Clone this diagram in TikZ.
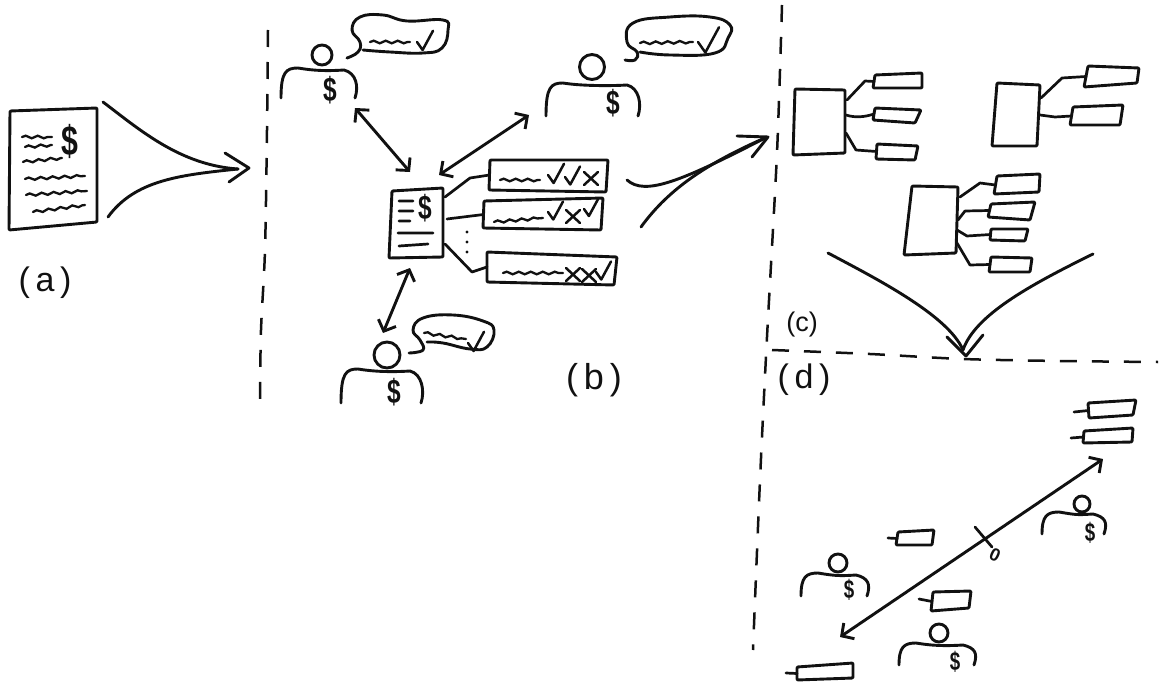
\documentclass[tikz,border=0pt]{standalone}
\usepackage{fontspec}
\usepackage{xcolor}
\usepackage{tikz}
\usetikzlibrary{arrows.meta,positioning,shapes,calc,decorations.pathmorphing}
\newfontfamily\handfont{Liberation Sans}
\definecolor{ink}{HTML}{111111}
\tikzset{
  sketch/.style={draw=ink,line width=2.9pt,line cap=round,line join=round},
  boxline/.style={sketch,rounded corners=1pt},
  link/.style={sketch,line width=2.7pt},
  dashline/.style={draw=ink,line width=2.5pt,dash pattern=on 17pt off 15pt},
  squig/.style={draw=ink,line width=2.3pt,line cap=round,decorate,
                decoration={snake,amplitude=1.3pt,segment length=12pt}},
  headshape/.style={ellipse,draw=ink,line width=2.9pt,inner sep=0pt},
  dollarmark/.style={inner sep=0pt,text=ink},
  partlabel/.style={inner sep=0pt,text=ink,font=\handfont\fontsize{34}{36}\selectfont},
  flowtip/.style={sketch},
  bothway/.style={sketch,{Straight Barb[length=9pt,width=19pt]}-{Straight Barb[length=9pt,width=19pt]}}
}
\newcommand{\narrowdollar}{\scalebox{.72}[1]{\bfseries\$}}
\newcommand{\skbox}[5]{
  \draw[boxline] (#2) -- (#3) -- (#4) -- (#5) -- cycle;
  \coordinate (#1) at ($(#2)!.5!(#5)$);
}
\newcommand{\skperson}[9]{
  \node[headshape,minimum size=#3pt] (head#1) at (#2) {};
  \draw[sketch] (#4,#7) .. controls (#4,#6+4) and (#4+5,#6) .. (#4+17,#6)
    .. controls (#4+35,#6+3) and (#5-30,#6+3) .. (#5-14,#6+2)
    .. controls (#5-2,#6+5) and (#5+1,#7-12) .. (#5-3,#7);
  \node[dollarmark,font=\handfont\fontsize{#9}{#9}\selectfont] (dollar#1) at (#8) {\narrowdollar};
}
\newcommand{\skcheck}[3]{
  \draw[sketch,line width=2.5pt] (#1,#2) -- (#1+.35*#3,#2+.5*#3) -- (#1+#3,#2-.7*#3);
}
\newcommand{\skcross}[2]{
  \draw[sketch,line width=2.5pt] (#1,#2) -- (#1+14,#2+13) (#1+14,#2) -- (#1,#2+13);
}
\begin{document}
\begin{tikzpicture}[x=1pt,y=-1pt]
    \useasboundingbox (0,0) rectangle (1159,685);

    \draw[dashline] plot[smooth] coordinates {(268,30) (267,130) (265,250) (261,330) (260,400)};
    \draw[dashline] plot[smooth] coordinates {(782,5) (777,153) (767,337) (760,480) (753,650)};
    \draw[dashline] plot[smooth] coordinates {(772,350) (870,354) (963,359) (1060,361) (1158,362)};

    \skbox{docA}{10,111}{97,108}{97,222}{9,230}
    \draw[squig] (22,137) -- (52,137);
    \draw[squig] (25,147) -- (52,145);
    \draw[squig] (23,162) -- (62,158);
    \draw[squig] (25,179) -- (85,176);
    \draw[squig] (26,195) -- (87,191);
    \draw[squig] (33,212) -- (85,205);
    \node[dollarmark,font=\handfont\fontsize{42}{42}\selectfont] (dollarDocA) at (70,141) {\narrowdollar};
    \node[partlabel] (labelA) at (45,283) {(\,a\,)};

    \coordinate (flowAtop) at (103,102);
    \coordinate (flowAlow) at (108,217);
    \coordinate (flowAend) at (238,169);
    \draw[sketch] (flowAtop) .. controls (140,130) and (180,165) .. (flowAend);
    \draw[sketch] (flowAlow) .. controls (135,180) and (180,175) .. (flowAend);
    \draw[flowtip] (225,153) -- (249,168) -- (229,182);

    \skperson{A}{322,55}{20}{281}{358}{68}{98}{330,90}{34}
    \draw[sketch] plot[smooth,tension=.75] coordinates {(347,58) (358,52) (360,42) (352,30) (360,17) (383,15) (407,21) (443,20) (448,30) (442,48) (423,53) (390,52) (363,50)};
    \draw[squig] (370,42) -- (410,42);
    \skcheck{417}{42}{16}

    \skperson{B}{592,67}{25}{546}{641}{83}{116}{613,103}{34}
    \draw[sketch] plot[smooth,tension=.75] coordinates {(625,60) (635,60) (637,52) (627,42) (633,23) (670,17) (710,17) (730,25) (728,38) (715,53) (670,55) (640,52)};
    \draw[squig] (640,43) -- (693,42);
    \skcheck{698}{42}{21}

    \skperson{C}{387,355}{26}{341}{424}{369}{403}{394,392}{34}
    \draw[sketch] plot[smooth,tension=.75] coordinates {(409,353) (423,350) (420,340) (413,330) (423,318) (453,315) (483,321) (494,330) (487,347) (470,349) (443,343) (427,342)};
    \draw[squig] (424,333) -- (466,339);
    \skcheck{468}{343}{16}

    \skbox{docB}{392,191}{443,188}{443,257}{389,258}
    \draw[link] (399,201) -- (413,201) (399,211) -- (413,211) (399,221) -- (410,221)
      (398,233) -- (433,233) (399,246) -- (428,244);
    \node[dollarmark,font=\handfont\fontsize{34}{34}\selectfont] (dollarDocB) at (425,208) {\narrowdollar};

    \skbox{vote1}{490,160}{608,160}{606,192}{489,190}
    \skbox{vote2}{484,201}{603,198}{601,230}{483,228}
    \skbox{vote3}{487,252}{617,257}{614,285}{487,282}
    \draw[link] (445,197) -- (470,178) -- (vote1);
    \draw[link] (447,219) -- (vote2);
    \draw[link] (445,244) -- (472,272) -- (vote3);
    \fill[ink] (467,232) circle (1.6pt) (467,242) circle (1.6pt) (467,252) circle (1.6pt);

    \draw[squig] (500,180) -- (540,180);
    \skcheck{548}{175}{16}
    \skcheck{565}{177}{15}
    \skcross{584}{172}
    \draw[squig] (494,222) -- (543,218);
    \skcheck{548}{212}{15}
    \skcross{566}{210}
    \skcheck{584}{209}{14}
    \draw[squig] (503,273) -- (563,273);
    \skcross{566}{268}
    \skcross{582}{269}
    \skcheck{596}{272}{15}

    \coordinate (endDocA) at (410,172);
    \coordinate (endPersonA) at (355,108);
    \coordinate (endDocB) at (439,175);
    \coordinate (endPersonB) at (529,115);
    \coordinate (endDocC) at (410,268);
    \coordinate (endPersonC) at (383,333);
    \draw[bothway] (endPersonA) -- (endDocA);
    \draw[bothway] (endDocB) -- (endPersonB);
    \draw[bothway] (endDocC) -- (endPersonC);
    \node[partlabel,font=\handfont\fontsize{36}{38}\selectfont] (labelB) at (594,380) {(\,b\,)};

    \coordinate (flowBtop) at (627,180);
    \coordinate (flowBlow) at (641,227);
    \coordinate (flowBend) at (767,137);
    \draw[sketch] (flowBtop) .. controls (645,196) and (680,182) .. (flowBend);
    \draw[sketch] (flowBlow) .. controls (670,187) and (710,162) .. (flowBend);
    \draw[flowtip] (737,136) -- (768,137) -- (752,157);

    \skbox{bigA}{795,89}{845,90}{845,153}{793,155}
    \skbox{smallA1}{875,75}{922,73}{922,88}{873,88}
    \skbox{smallA2}{875,108}{921,110}{915,123}{873,120}
    \skbox{smallA3}{877,144}{918,146}{915,160}{876,159}
    \draw[link] (847,100) -- (865,81) -- (smallA1);
    \draw[link] (846,115) .. controls (855,118) and (865,117) .. (smallA2);
    \draw[link] (846,133) -- (856,150) -- (smallA3);

    \skbox{bigB}{997,83}{1040,85}{1037,146}{992,146}
    \skbox{smallB1}{1088,66}{1139,68}{1137,83}{1084,87}
    \skbox{smallB2}{1073,107}{1123,105}{1120,125}{1070,125}
    \draw[link] (1041,98) -- (1062,78) -- (smallB1);
    \draw[link] (1040,115) -- (1055,117) -- (smallB2);

    \skbox{bigC}{912,186}{958,187}{956,253}{904,255}
    \skbox{smallC1}{997,176}{1040,174}{1039,192}{994,194}
    \skbox{smallC2}{991,204}{1035,202}{1030,220}{988,217}
    \skbox{smallC3}{991,229}{1028,229}{1025,241}{990,240}
    \skbox{smallC4}{991,257}{1032,258}{1030,272}{989,272}
    \draw[link] (960,197) -- (980,183) -- (smallC1);
    \draw[link] (958,220) -- (965,211) -- (smallC2);
    \draw[link] (957,230) -- (967,236) -- (smallC3);
    \draw[link] (957,243) -- (970,265) -- (smallC4);

    \coordinate (flowCleft) at (828,253);
    \coordinate (flowCright) at (1093,254);
    \coordinate (flowCend) at (963,350);
    \draw[sketch] (flowCleft) .. controls (875,278) and (948,315) .. (flowCend);
    \draw[sketch] (flowCright) .. controls (1030,285) and (975,315) .. (flowCend);
    \draw[flowtip] (947,337) -- (966,356) -- (983,335);
    \node[partlabel,font=\handfont\fontsize{27}{29}\selectfont] (labelC) at (802,325) {(c)};
    \node[partlabel] (labelD) at (804,380) {(\,d\,)};

    \skbox{scaleA}{1088,403}{1136,400}{1133,415}{1089,418}
    \skbox{scaleB}{1084,431}{1133,428}{1132,442}{1083,443}
    \skbox{scaleC}{898,532}{934,530}{932,545}{896,545}
    \skbox{scaleD}{933,592}{971,591}{969,608}{931,611}
    \skbox{scaleE}{797,667}{853,663}{853,678}{797,680}
    \coordinate (tickA) at (1074,412);
    \coordinate (tickB) at (1071,438);
    \coordinate (tickC) at (888,538);
    \coordinate (tickD) at (919,599);
    \coordinate (tickE) at (786,673);
    \draw[link] (tickA) -- (scaleA);
    \draw[link] (tickB) -- (scaleB);
    \draw[link] (tickC) -- (scaleC);
    \draw[link] (tickD) -- (scaleD);
    \draw[link] (tickE) -- (scaleE);

    \skperson{D}{1082,504}{16}{1042}{1107}{512}{534}{1090,533}{26}
    \skperson{E}{838,563}{18}{801}{870}{573}{596}{849,590}{26}
    \skperson{F}{939,633}{18}{899}{977}{643}{665}{955,662}{26}

    \coordinate (axisLow) at (840,637);
    \coordinate (axisHigh) at (1103,459);
    \coordinate (markTop) at (975,527);
    \coordinate (markEnd) at (992,547);
    \draw[bothway] (axisLow) -- (axisHigh);
    \draw[link] (markTop) -- (markEnd);
    \node[inner sep=0pt,text=ink,rotate=-25,font=\handfont\bfseries\fontsize{18}{18}\selectfont,below right=0pt and 1pt of markEnd] (zeroMark) {0};
  \end{tikzpicture}
\end{document}
